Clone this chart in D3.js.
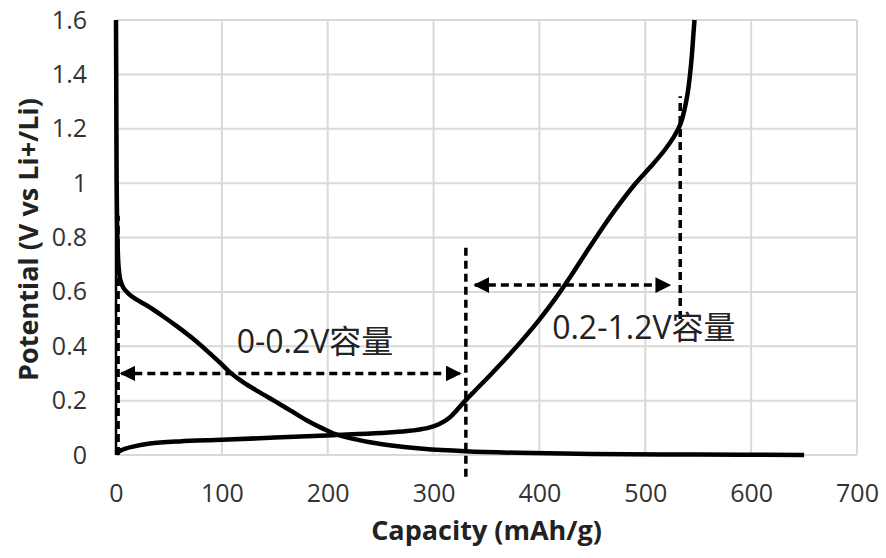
<!DOCTYPE html>
<html>
<head>
<meta charset="utf-8">
<script src="https://cdn.jsdelivr.net/npm/d3@7"></script>
<style>
  body { margin: 0; background: #fff; }
  svg { display: block; }
</style>
</head>
<body>
<svg width="886" height="558"></svg>
<script>
// discharge (lithiation) curve, [capacity, potential]
var discharge = [
  [0, 1.6], [0.3, 1.3], [0.6, 1.02], [1, 0.86], [1.6, 0.76], [2.5, 0.69],
  [4, 0.645], [7, 0.615], [12, 0.593], [18, 0.575], [30, 0.548], [43, 0.514],
  [58, 0.472], [72, 0.43], [86, 0.383], [100, 0.333], [108, 0.303],
  [120, 0.268], [135, 0.232], [150, 0.198], [165, 0.163], [180, 0.128],
  [195, 0.098], [205, 0.08], [220, 0.063], [240, 0.047], [260, 0.035],
  [290, 0.023], [330, 0.014], [380, 0.008], [450, 0.004], [550, 0.0015], [650, 0.0]
];

// charge (delithiation) curve
var charge = [
  [0, 0.005], [5, 0.018], [15, 0.03], [32, 0.042], [60, 0.05], [100, 0.056],
  [150, 0.064], [205, 0.073], [250, 0.081], [275, 0.088], [295, 0.1],
  [305, 0.113], [315, 0.137], [322, 0.165], [330, 0.2], [340, 0.24],
  [355, 0.3], [370, 0.362], [385, 0.428], [400, 0.498], [415, 0.575],
  [430, 0.66], [445, 0.75], [460, 0.838], [475, 0.92], [490, 0.995],
  [505, 1.06], [518, 1.12], [527, 1.17], [533, 1.215], [537, 1.27],
  [540, 1.33], [542, 1.39], [544, 1.47], [545.5, 1.55], [546.5, 1.6]
];

var xTicks = [0, 100, 200, 300, 400, 500, 600, 700];
var yTicks = [0, 0.2, 0.4, 0.6, 0.8, 1, 1.2, 1.4, 1.6];

// dashed guides: [capacity, from V, to V]
var guides = [[2, 0, 0.88], [330.5, -0.08, 0.78], [533, 0.5, 1.32]];
// double arrows: [from capacity, to capacity, V]
var arrows = [[5, 325, 0.3], [339, 523, 0.625]];
// labels: [text, capacity, V]
var labels = [["0-0.2V容量", 114, 0.415], ["0.2-1.2V容量", 412, 0.467]];

var svg = d3.select("svg"),
    margin = {top: 20, right: 29, bottom: 103, left: 116},
    width = +svg.attr("width") - margin.left - margin.right,
    height = +svg.attr("height") - margin.top - margin.bottom;

var x = d3.scaleLinear().domain([0, 700]).range([0, width]);
var y = d3.scaleLinear().domain([0, 1.6]).range([height, 0]);

var defs = svg.append("defs");
defs.append("marker")
    .attr("id", "head")
    .attr("viewBox", "0 0 10 10")
    .attr("refX", 9).attr("refY", 5)
    .attr("markerWidth", 4.5).attr("markerHeight", 4.5)
    .attr("markerUnits", "strokeWidth")
    .attr("orient", "auto-start-reverse")
  .append("path")
    .attr("d", "M0,0L10,5L0,10z")
    .attr("fill", "#000");

var g = svg.append("g")
    .attr("transform", "translate(" + margin.left + "," + margin.top + ")");

// gridlines
g.append("g")
    .selectAll("line")
    .data(yTicks)
    .enter().append("line")
    .attr("x1", 0).attr("x2", width)
    .attr("y1", function(d) { return y(d); })
    .attr("y2", function(d) { return y(d); })
    .attr("stroke", "#d9d9d9").attr("stroke-width", 2);

g.append("g")
    .selectAll("line")
    .data(xTicks)
    .enter().append("line")
    .attr("y1", 0).attr("y2", height)
    .attr("x1", function(d) { return x(d); })
    .attr("x2", function(d) { return x(d); })
    .attr("stroke", "#d9d9d9").attr("stroke-width", 2);

// axes
var xAxis = g.append("g")
    .attr("transform", "translate(0," + height + ")")
    .call(d3.axisBottom(x).tickValues(xTicks).tickSize(0).tickPadding(29));
xAxis.select(".domain").remove();

var yAxis = g.append("g")
    .call(d3.axisLeft(y).tickValues(yTicks).tickSize(0).tickPadding(29)
      .tickFormat(function(d) { return d3.format("")(+d.toFixed(1)); }));
yAxis.select(".domain").remove();

svg.selectAll(".tick text")
    .attr("font-family", "'Open Sans', 'Noto Sans', sans-serif")
    .attr("font-size", 25)
    .attr("fill", "#333");

g.append("line")
    .attr("x1", 0).attr("x2", 0)
    .attr("y1", 0).attr("y2", height)
    .attr("stroke", "#000").attr("stroke-width", 2.5);

// curves
var line = d3.line()
    .x(function(d) { return x(d[0]); })
    .y(function(d) { return y(d[1]); })
    .curve(d3.curveCatmullRom.alpha(0.5));

[discharge, charge].forEach(function(s) {
  g.append("path")
      .datum(s)
      .attr("d", line)
      .attr("fill", "none")
      .attr("stroke", "#000")
      .attr("stroke-width", 4.5)
      .attr("stroke-linejoin", "round");
});

// annotations
g.selectAll("line.guide")
    .data(guides)
    .enter().append("line")
    .attr("class", "guide")
    .attr("x1", function(d) { return x(d[0]); })
    .attr("x2", function(d) { return x(d[0]); })
    .attr("y1", function(d) { return y(d[1]); })
    .attr("y2", function(d) { return y(d[2]); })
    .attr("stroke", "#000").attr("stroke-width", 3.5)
    .attr("stroke-dasharray", "8,5");

g.selectAll("line.arrow")
    .data(arrows)
    .enter().append("line")
    .attr("class", "arrow")
    .attr("x1", function(d) { return x(d[0]); })
    .attr("x2", function(d) { return x(d[1]); })
    .attr("y1", function(d) { return y(d[2]); })
    .attr("y2", function(d) { return y(d[2]); })
    .attr("stroke", "#000").attr("stroke-width", 3.5)
    .attr("stroke-dasharray", "8,5")
    .attr("marker-start", "url(#head)")
    .attr("marker-end", "url(#head)");

g.selectAll("text.note")
    .data(labels)
    .enter().append("text")
    .attr("class", "note")
    .attr("x", function(d) { return x(d[1]); })
    .attr("y", function(d) { return y(d[2]); })
    .attr("dy", "0.35em")
    .attr("font-family", "'Open Sans', 'Noto Sans CJK SC', sans-serif")
    .attr("font-size", 32)
    .attr("fill", "#222")
    .text(function(d) { return d[0]; });

// axis titles
svg.append("text")
    .attr("x", margin.left + width / 2)
    .attr("y", 540)
    .attr("text-anchor", "middle")
    .attr("font-family", "'Open Sans', 'Noto Sans', sans-serif")
    .attr("font-weight", "bold")
    .attr("font-size", 27)
    .attr("fill", "#222")
    .text("Capacity (mAh/g)");

svg.append("text")
    .attr("transform", "translate(38," + (margin.top + height / 2 + 2) + ") rotate(-90)")
    .attr("text-anchor", "middle")
    .attr("font-family", "'Open Sans', 'Noto Sans', sans-serif")
    .attr("font-weight", "bold")
    .attr("font-size", 27)
    .attr("fill", "#222")
    .text("Potential (V vs Li+/Li)");
</script>
</body>
</html>
